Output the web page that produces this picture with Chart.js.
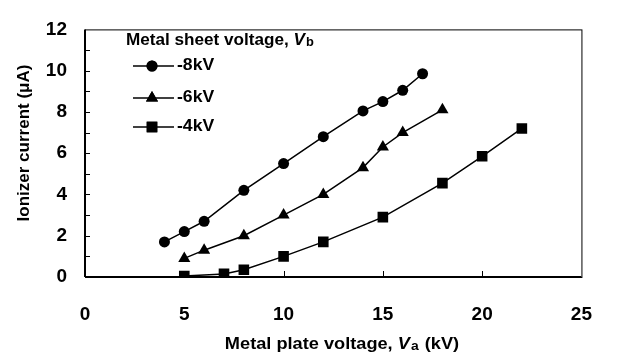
<!DOCTYPE html>
<html>
<head>
<meta charset="utf-8">
<script src="https://cdn.jsdelivr.net/npm/chart.js@4.4.1/dist/chart.umd.min.js"></script>
<style>
  body { margin: 0; background: #fff; }
  #wrap { width: 618px; height: 359px; position: relative; }
</style>
</head>
<body>
<div id="wrap"><canvas id="c" width="618" height="359"></canvas></div>
<script>
// data
var seriesNames = ['-8kV', '-6kV', '-4kV'];
var markers = ['circle', 'triangle', 'rect'];
var markerSize = [5.5, 7, 7.5];

var va8 = [4, 5, 6, 8, 10, 12, 14, 15, 16, 17];
var i8  = [1.7, 2.2, 2.7, 4.2, 5.5, 6.8, 8.05, 8.5, 9.05, 9.85];
var va6 = [5, 6, 8, 10, 12, 14, 15, 16, 18];
var i6  = [0.9, 1.3, 2.0, 3.0, 4.0, 5.3, 6.3, 7.0, 8.1];
var va4 = [5, 7, 8, 10, 12, 15, 18, 20, 22];
var i4  = [0.05, 0.15, 0.35, 1.0, 1.7, 2.9, 4.55, 5.85, 7.2];

var xTicks = [0, 5, 10, 15, 20, 25];
var yTicks = [0, 2, 4, 6, 8, 10, 12];

var FONT = '"Liberation Sans", Arial, sans-serif';

function pts(xs, ys){
    return xs.map(function(v, k){ return {x: v, y: ys[k]}; });
}
var allX = [va8, va6, va4], allY = [i8, i6, i4];

var datasets = seriesNames.map(function(n, k){
    return {
        label: n,
        data: pts(allX[k], allY[k]),
        borderColor: '#000',
        backgroundColor: '#000',
        borderWidth: 1.5,
        pointStyle: markers[k],
        pointRadius: markerSize[k],
        pointBackgroundColor: '#000',
        pointBorderColor: '#000',
        pointBorderWidth: 0,
        tension: 0
    };
});

// draw a run of text pieces, stretched a little sideways like the scan
// parts: [text, font, dy, extra gap]
function runText(ctx, parts, x, y, sx){
    ctx.save();
    ctx.translate(x, y);
    ctx.scale(sx, 1);
    var cx = 0;
    parts.forEach(function(p){
        ctx.font = p[1];
        ctx.fillText(p[0], cx, p[2] || 0);
        cx += ctx.measureText(p[0]).width + (p[3] || 0);
    });
    ctx.restore();
    return cx * sx;
}
function runWidth(ctx, parts, sx){
    var w = 0;
    parts.forEach(function(p){ ctx.font = p[1]; w += ctx.measureText(p[0]).width + (p[3] || 0); });
    return w * sx;
}

// frame, inward ticks, legend and axis titles
var decor = {
    id: 'decor',
    afterDraw: function(chart){
        var ctx = chart.ctx, a = chart.chartArea;
        var xs = chart.scales.x, ys = chart.scales.y;
        ctx.save();
        ctx.strokeStyle = '#000';
        ctx.lineWidth = 1;
        ctx.strokeRect(a.left + 0.5, a.top + 0.5, a.right - a.left, a.bottom - a.top);
        ctx.lineWidth = 2;
        ctx.beginPath();
        ctx.moveTo(a.left, a.bottom); ctx.lineTo(a.right, a.bottom);
        ctx.moveTo(a.left, a.bottom); ctx.lineTo(a.left, a.top);
        ctx.stroke();
        ctx.lineWidth = 1;
        ctx.beginPath();
        for (var v = 1; v < 12; v++) {
            var py = Math.round(ys.getPixelForValue(v)) + 0.5;
            ctx.moveTo(a.left, py); ctx.lineTo(a.left + 5, py);
        }
        [5, 10, 15, 20].forEach(function(v){
            var px = Math.round(xs.getPixelForValue(v)) + 0.5;
            ctx.moveTo(px, a.bottom); ctx.lineTo(px, a.bottom - 6);
        });
        ctx.stroke();

        // legend
        ctx.fillStyle = '#000';
        ctx.textBaseline = 'middle';
        var SX = 1.07;
        runText(ctx, [
            ['Metal sheet voltage, ', 'bold 16px ' + FONT, 0],
            ['V', 'italic bold 16px ' + FONT, 0, 1],
            ['b', 'bold 12px ' + FONT, 2]
        ], 126, 41, SX);

        var rowsY = [66, 98, 127];
        seriesNames.forEach(function(n, k){
            var y = rowsY[k];
            ctx.lineWidth = 1.5;
            ctx.beginPath();
            ctx.moveTo(133, y); ctx.lineTo(174, y);
            ctx.stroke();
            Chart.helpers.drawPoint(ctx, {pointStyle: markers[k], radius: markerSize[k], rotation: 0, borderWidth: 0}, 152, y);
            ctx.fill();
            runText(ctx, [[n, 'bold 16px ' + FONT, 0]], 177, y, 1.1);
        });

        // x title
        var xt = [
            ['Metal plate voltage, ', 'bold 17px ' + FONT, 0],
            ['V', 'italic bold 17px ' + FONT, 0, 1],
            ['a', 'bold 13px ' + FONT, 2, 1],
            [' (kV)', 'bold 17px ' + FONT, 0]
        ];
        var xw = runWidth(ctx, xt, SX);
        runText(ctx, xt, 342 - xw / 2, 344, SX);

        // y title
        ctx.translate(24, 143);
        ctx.rotate(-Math.PI / 2);
        var yt = [['Ionizer current (\u03bcA)', 'bold 17px ' + FONT, 0]];
        var yw = runWidth(ctx, yt, 1);
        runText(ctx, yt, -yw / 2, 0, 1);
        ctx.restore();
    }
};

new Chart(document.getElementById('c').getContext('2d'), {
    type: 'line',
    data: { datasets: datasets },
    options: {
        responsive: false,
        animation: false,
        layout: { padding: { top: 13, right: 23, left: 0, bottom: 0 } },
        plugins: { legend: { display: false }, tooltip: { enabled: false } },
        scales: {
            x: {
                type: 'linear', min: 0, max: 25,
                afterBuildTicks: function(s){ s.ticks = xTicks.map(function(v){ return {value: v}; }); },
                afterFit: function(s){ s.height = 82; },
                grid: { display: false, drawTicks: false },
                border: { display: false },
                ticks: { color: '#000', padding: 26, font: { family: FONT, size: 19, weight: 'bold' } }
            },
            y: {
                type: 'linear', min: 0, max: 12,
                afterBuildTicks: function(s){ s.ticks = yTicks.map(function(v){ return {value: v}; }); },
                afterFit: function(s){ s.width = 85; },
                grid: { display: false, drawTicks: false },
                border: { display: false },
                ticks: { color: '#000', padding: 18, font: { family: FONT, size: 19, weight: 'bold' } }
            }
        }
    },
    plugins: [decor]
});
</script>
</body>
</html>
